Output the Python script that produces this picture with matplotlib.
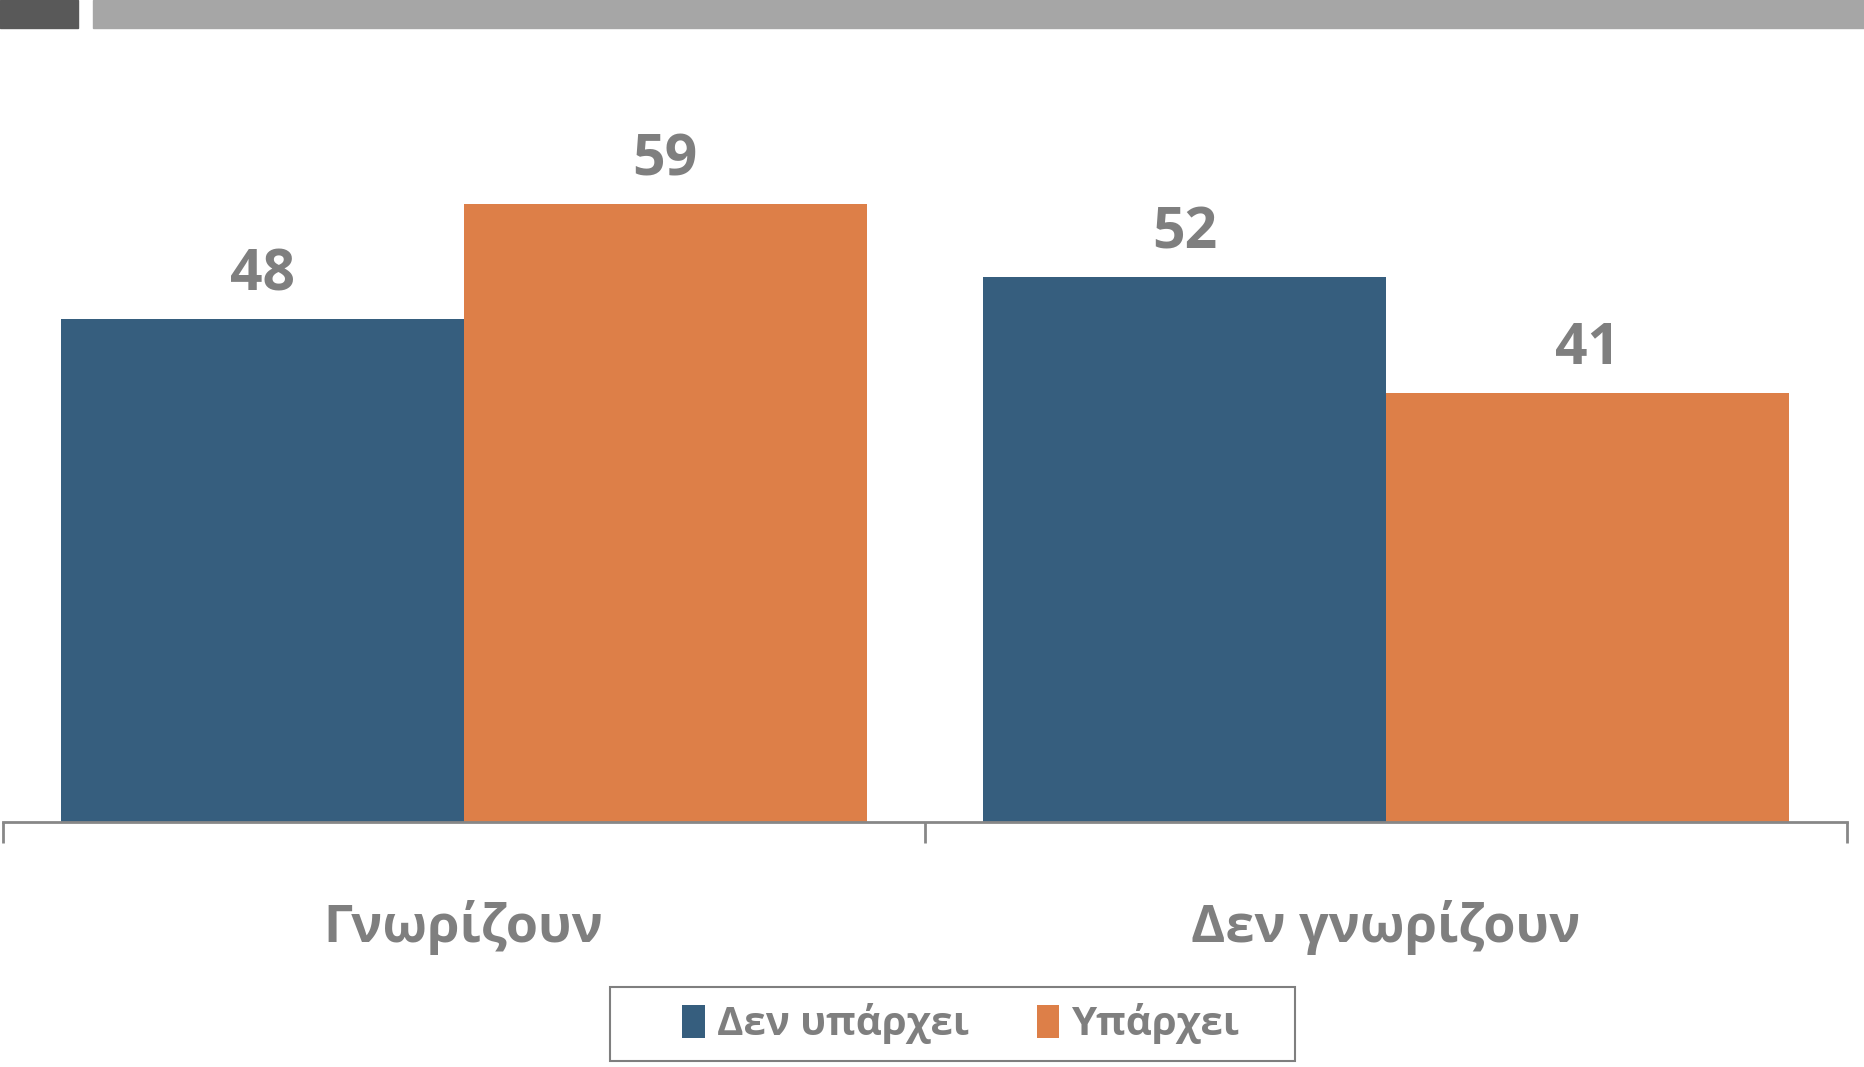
import numpy as np
import matplotlib
matplotlib.use("Agg")
import matplotlib.pyplot as plt
from matplotlib.patches import Rectangle

plt.rcParams['font.family'] = ['Open Sans', 'DejaVu Sans']

categories = ['Γνωρίζουν', 'Δεν γνωρίζουν']
series_names = ['Δεν υπάρχει', 'Υπάρχει']
no_exists = [48, 52]
exists = [59, 41]

blue = '#365E7E'
orange = '#DD7F48'
grey_txt = '#7F7F7F'

W, H = 1865, 1067
fig = plt.figure(figsize=(W / 100, H / 100), dpi=100)

# header strips
fig.patches.append(Rectangle((0, 1 - 28 / H), 78 / W, 28 / H,
                             transform=fig.transFigure, color='#595959'))
fig.patches.append(Rectangle((93 / W, 1 - 28 / H), 1 - 93 / W, 28 / H,
                             transform=fig.transFigure, color='#A6A6A6'))

# axes: x from 2.5 to 1847 px, baseline at y=822
ax = fig.add_axes([2.5 / W, (H - 822) / H, (1847 - 2.5) / W, 733 / H])
ax.set_ylim(0, 70)
ax.set_xlim(-0.5, 1.5)

x = np.arange(len(categories))
bw = 0.437
b1 = ax.bar(x - bw / 2, no_exists, bw, color=blue, label=series_names[0])
b2 = ax.bar(x + bw / 2, exists, bw, color=orange, label=series_names[1])

for bars in (b1, b2):
    for r in bars:
        ax.annotate(f'{r.get_height():.0f}', (r.get_x() + r.get_width() / 2, r.get_height()),
                    xytext=(0, 15), textcoords='offset pixels', ha='center', va='bottom',
                    fontsize=41, fontweight='bold', color=grey_txt)

for s in ['top', 'right', 'left']:
    ax.spines[s].set_visible(False)
ax.spines['bottom'].set_color('#878787')
ax.spines['bottom'].set_linewidth(2)
ax.set_yticks([])
ax.set_xticks([-0.5, 0.5, 1.5], minor=False)
ax.set_xticklabels([])
ax.tick_params(axis='x', length=15, width=2, color='#878787')

for xi, lab in zip(x, categories):
    ax.text(xi, -10.1, lab, ha='center', va='center', fontsize=37.5,
            fontweight='bold', color=grey_txt)

# legend box drawn separately, legend itself frameless
fig.patches.append(Rectangle((610 / W, 1 - 1061 / H), 685 / W, 74 / H,
                             transform=fig.transFigure, fill=False,
                             edgecolor='#7F7F7F', linewidth=1.5))
leg = fig.legend(handles=[b1, b2], labels=series_names, loc='center',
                 bbox_to_anchor=(961 / W, 1 - 1024 / H),
                 ncol=2, frameon=False, fontsize=29,
                 handlelength=0.55, handleheight=0.85, handletextpad=0.3,
                 columnspacing=1.7, borderpad=0.3)
for t in leg.get_texts():
    t.set_color(grey_txt)
    t.set_fontweight('bold')

fig.savefig('out.png', dpi=100)
